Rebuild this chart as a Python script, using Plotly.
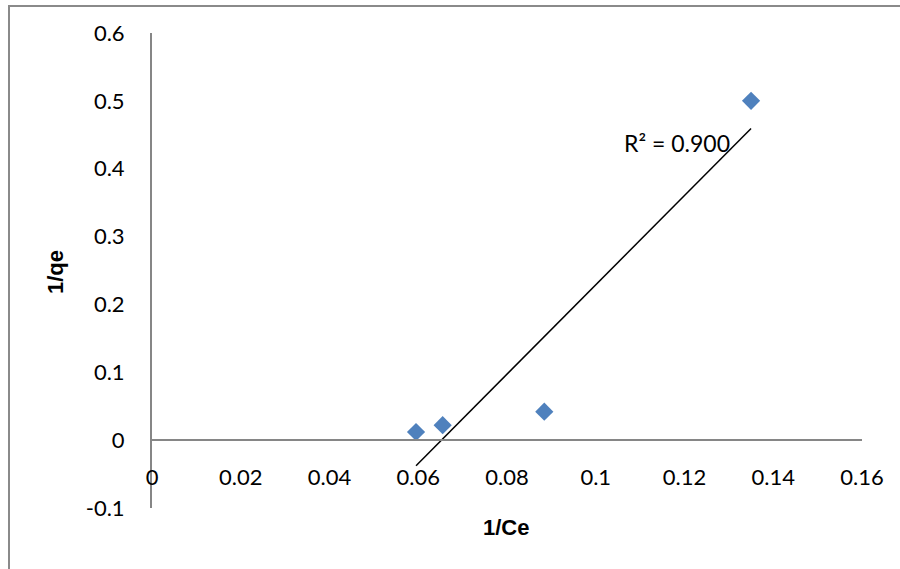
import numpy as np
import plotly.graph_objects as go

# Data
x_vals = [0.0595, 0.0655, 0.0884, 0.135]
y_vals = [0.012, 0.022, 0.042, 0.500]
x_ticks = [0, 0.02, 0.04, 0.06, 0.08, 0.10, 0.12, 0.14, 0.16]
x_tick_labels = ["0", "0.02", "0.04", "0.06", "0.08", "0.1", "0.12", "0.14", "0.16"]
y_ticks = [-0.1, 0, 0.1, 0.2, 0.3, 0.4, 0.5, 0.6]
y_tick_labels = ["-0.1", "0", "0.1", "0.2", "0.3", "0.4", "0.5", "0.6"]
r2_label = "R² = 0.900"

# Linear trendline over the data range
slope, intercept = np.polyfit(x_vals, y_vals, 1)
tx = [min(x_vals), max(x_vals)]
ty = [slope * v + intercept for v in tx]

W, H = 900, 569
ML, MR, MT, MB = 152, 38, 33, 61
PW, PH = W - ML - MR, H - MT - MB

def px(x):
    return (x - ML) / PW

def py(y):
    return (H - MB - y) / PH

fig = go.Figure()
fig.add_trace(go.Scatter(x=tx, y=ty, mode="lines",
                         line=dict(color="black", width=1.5),
                         showlegend=False, hoverinfo="skip"))
fig.add_trace(go.Scatter(x=x_vals, y=y_vals, mode="markers",
                         marker=dict(symbol="diamond", size=14, color="#4F81BD",
                                     line=dict(width=0)),
                         showlegend=False))

tick_font = dict(family="Lato, Open Sans, sans-serif", size=22, color="#000000")
axis_gray = "#868686"

fig.update_layout(
    width=W, height=H,
    margin=dict(l=ML, r=MR, t=MT, b=MB, pad=0),
    paper_bgcolor="white", plot_bgcolor="white",
    xaxis=dict(range=[0, 0.16], tickvals=x_ticks, ticktext=x_tick_labels,
               showgrid=False, zeroline=False, showline=True,
               linecolor=axis_gray, linewidth=2,
               anchor="free", position=1 / 7, ticks="",
               ticklabelstandoff=17, tickfont=tick_font),
    yaxis=dict(range=[-0.1, 0.6], tickvals=y_ticks, ticktext=y_tick_labels,
               showgrid=False, zeroline=False, showline=True,
               linecolor=axis_gray, linewidth=2, ticks="",
               ticklabelstandoff=21, tickfont=tick_font),
    font=tick_font,
)

fig.add_annotation(text="<b>1/qe</b>", xref="paper", yref="paper",
                   x=px(55), y=py(272), textangle=-90, showarrow=False,
                   xanchor="center", yanchor="middle",
                   font=dict(family="Liberation Sans, Arial, sans-serif", size=22, color="black"))
fig.add_annotation(text="<b>1/Ce</b>", xref="paper", yref="paper",
                   x=px(506), y=py(527), showarrow=False,
                   xanchor="center", yanchor="middle",
                   font=dict(family="Liberation Sans, Arial, sans-serif", size=22, color="black"))
fig.add_annotation(text=r2_label, xref="paper", yref="paper",
                   x=px(677), y=py(143), showarrow=False,
                   xanchor="center", yanchor="middle",
                   font=dict(family="Lato, Open Sans, sans-serif", size=23, color="black"))

fig.add_shape(type="rect", xref="paper", yref="paper",
              x0=px(9), y0=py(6), x1=px(910), y1=py(580),
              line=dict(color="#8a8a8a", width=2), fillcolor="rgba(0,0,0,0)",
              layer="below")

fig.write_html("out.html")
